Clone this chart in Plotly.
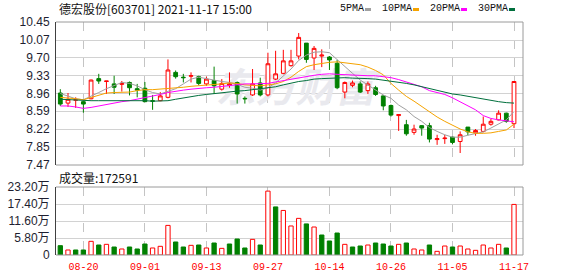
import plotly.graph_objects as go

# ---------------- data ----------------
dates = ["08-17", "08-18", "08-19", "08-20", "08-23", "08-24", "08-25", "08-26", "08-27", "08-30", "08-31",
         "09-01", "09-02", "09-03", "09-06", "09-07", "09-08", "09-09", "09-10", "09-13", "09-14", "09-15",
         "09-16", "09-17", "09-22", "09-23", "09-24", "09-27", "09-28", "09-29", "09-30",
         "10-08", "10-11", "10-12", "10-13", "10-14", "10-15", "10-18", "10-19", "10-20", "10-21", "10-22",
         "10-25", "10-26", "10-27", "10-28", "10-29",
         "11-01", "11-02", "11-03", "11-04", "11-05", "11-08", "11-09", "11-10", "11-11", "11-12", "11-15",
         "11-16", "11-17"]

opens = [8.97, 8.76, 8.82, 8.79, 8.85, 9.27, 9.21, 9.16, 9.15, 9.19, 9.06, 9.07, 8.81, 8.81, 8.88, 9.40,
         9.30, 9.32, 9.31, 9.16, 9.23, 9.05, 9.13, 9.19, 8.86, 8.93, 9.18, 8.93, 9.26, 9.38, 9.54, 9.74,
         10.01, 9.70, 9.74, 9.72, 9.59, 8.99, 9.13, 9.16, 9.02, 9.08, 8.91, 8.71, 8.50, 8.31, 8.15, 8.29,
         8.29, 8.00, 8.02, 8.05, 7.96, 8.26, 8.14, 8.17, 8.32, 8.41, 8.55, 8.33]
highs = [9.05, 8.97, 8.88, 8.80, 9.25, 9.37, 9.22, 9.33, 9.22, 9.21, 9.16, 9.20, 8.93, 8.99, 9.67, 9.44,
         9.37, 9.40, 9.33, 9.31, 9.52, 9.26, 9.40, 9.21, 8.90, 9.47, 9.29, 9.81, 9.85, 9.87, 9.87, 10.22,
         10.01, 9.95, 9.88, 9.74, 9.66, 9.21, 9.23, 9.21, 9.21, 9.12, 8.93, 8.73, 8.52, 8.41, 8.31, 8.30,
         8.35, 8.10, 8.10, 8.06, 8.17, 8.26, 8.22, 8.48, 8.43, 8.61, 8.56, 9.21]
lows = [8.70, 8.68, 8.66, 8.56, 8.84, 9.16, 8.95, 8.95, 9.00, 8.92, 8.88, 8.78, 8.62, 8.80, 8.86, 9.27,
        9.19, 9.19, 9.13, 9.12, 8.95, 9.02, 9.08, 8.75, 8.75, 8.91, 8.90, 8.90, 9.24, 9.36, 9.52, 9.67,
        9.60, 9.45, 9.51, 9.45, 9.05, 8.86, 9.09, 8.97, 8.95, 8.91, 8.61, 8.48, 8.18, 8.08, 8.10, 8.08,
        7.94, 7.89, 7.91, 7.90, 7.72, 8.09, 8.08, 8.15, 8.29, 8.40, 8.35, 8.24]
closes = [8.74, 8.84, 8.83, 8.74, 9.24, 9.22, 9.22, 9.09, 9.17, 9.08, 9.03, 8.79, 8.80, 8.91, 9.45, 9.31,
          9.29, 9.33, 9.17, 9.26, 9.12, 9.17, 9.16, 8.95, 8.85, 9.16, 8.93, 9.58, 9.37, 9.64, 9.64, 10.13,
          9.67, 9.90, 9.76, 9.66, 9.08, 9.19, 9.18, 8.99, 9.16, 8.94, 8.70, 8.51, 8.52, 8.12, 8.22, 8.24,
          8.01, 8.02, 8.03, 7.94, 8.10, 8.16, 8.19, 8.32, 8.38, 8.55, 8.38, 9.21]

# volume in 万 (10k)
volumes = [3.18, 1.71, 1.71, 1.71, 4.66, 3.41, 3.64, 2.73, 2.05, 2.73, 2.05, 3.75, 2.39, 2.96, 10.1, 4.44,
           2.73, 3.30, 3.41, 2.39, 4.09, 2.27, 3.75, 5.46, 2.39, 5.34, 3.41, 21.8, 16.4, 15.2, 9.9, 12.5,
           10.6, 9.55, 6.82, 4.78, 7.5, 3.64, 2.73, 3.07, 3.41, 4.09, 3.75, 3.07, 3.64, 4.09, 2.05, 1.71,
           3.41, 1.25, 3.07, 2.73, 3.07, 2.05, 1.59, 3.41, 2.39, 3.64, 2.39, 17.2591]

ma5 = [8.96, 8.91, 8.85, 8.83, 8.90, 8.98, 9.06, 9.13, 9.19, 9.17, 9.12, 9.04, 8.98, 8.95, 9.01, 9.06,
       9.16, 9.26, 9.30, 9.27, 9.23, 9.21, 9.19, 9.15, 9.09, 9.07, 9.03, 9.08, 9.18, 9.32, 9.47, 9.65,
       9.76, 9.82, 9.83, 9.81, 9.66, 9.52, 9.38, 9.24, 9.14, 9.04, 8.93, 8.86, 8.72, 8.62, 8.48, 8.38,
       8.25, 8.17, 8.10, 8.05, 8.05, 8.09, 8.12, 8.16, 8.24, 8.33, 8.41, 8.585]
ma10 = [8.88, 8.87, 8.85, 8.83, 8.88, 8.93, 8.97, 8.98, 8.98, 8.99, 9.02, 9.04, 9.04, 9.05, 9.06, 9.08,
        9.09, 9.11, 9.12, 9.14, 9.14, 9.16, 9.18, 9.17, 9.14, 9.13, 9.12, 9.14, 9.16, 9.21, 9.30, 9.42,
        9.52, 9.56, 9.59, 9.61, 9.62, 9.60, 9.59, 9.56, 9.51, 9.44, 9.35, 9.17, 9.03, 8.90, 8.80, 8.69,
        8.58, 8.47, 8.38, 8.30, 8.22, 8.16, 8.13, 8.13, 8.14, 8.17, 8.20, 8.32]
ma20 = [8.70, 8.70, 8.68, 8.65, 8.67, 8.70, 8.74, 8.77, 8.79, 8.81, 8.84, 8.87, 8.90, 8.94, 8.98, 9.01,
        9.03, 9.05, 9.07, 9.08, 9.09, 9.11, 9.13, 9.15, 9.16, 9.16, 9.16, 9.17, 9.20, 9.23, 9.26, 9.29,
        9.31, 9.34, 9.36, 9.37, 9.36, 9.35, 9.35, 9.34, 9.33, 9.33, 9.31, 9.29, 9.25, 9.20, 9.16, 9.10,
        9.02, 8.98, 8.94, 8.87, 8.79, 8.70, 8.62, 8.50, 8.44, 8.41, 8.39, 8.37]
ma30 = [8.84, 8.83, 8.82, 8.81, 8.81, 8.81, 8.81, 8.81, 8.81, 8.81, 8.82, 8.81, 8.80, 8.80, 8.81, 8.84,
        8.87, 8.90, 8.92, 8.94, 8.96, 8.98, 8.99, 9.01, 9.02, 9.04, 9.06, 9.08, 9.10, 9.14, 9.18, 9.21,
        9.23, 9.26, 9.27, 9.28, 9.29, 9.29, 9.28, 9.28, 9.27, 9.26, 9.24, 9.22, 9.20, 9.17, 9.14, 9.10,
        9.06, 9.02, 8.99, 8.95, 8.93, 8.90, 8.87, 8.84, 8.81, 8.79, 8.77, 8.76]

price_tick_labels = ["10.45", "10.07", "9.70", "9.33", "8.96", "8.59", "8.22", "7.85", "7.47"]
vol_tick_values = [0, 5.80, 11.60, 17.40, 23.20]
vol_tick_labels = ["0", "5.80万", "11.60万", "17.40万", "23.20万"]
x_tick_labels = ["08-20", "09-01", "09-13", "09-27", "10-14", "10-26", "11-05", "11-17"]

stock_title = "德宏股份[603701] 2021-11-17 15:00"
ma_names = ["5PMA", "10PMA", "20PMA", "30PMA"]

# ---------------- style ----------------
RED = "#ff0000"
GREEN = "#008000"
MA_COLORS = ["#a0a0a0", "#f5a300", "#ff00ff", "#006f3c"]
GRID = "#d2d2d2"
VGRID = "#c4c4c4"
BORDER = "#9a9a9a"
LABEL = "#1e1e30"

W, H = 578, 276
PL, PR, PT, PB = 56, 523, 22, 255
PRICE_BOTTOM = 165
VOL_TOP = 187


def px_x(px):
    return (px - PL) / (PR - PL)


def px_y(py):
    return (PB - py) / (PB - PT)


n = len(dates)
idx = list(range(n))
tick_idx = [dates.index(t) for t in x_tick_labels]
xr = [-0.56, 60.17]

price_dom = [px_y(PRICE_BOTTOM), 1.0]
vol_dom = [0.0, px_y(VOL_TOP)]

fig = go.Figure()

# watermark on base price subplot (drawn beneath candles)
fig.add_trace(go.Scatter(x=[30.6], y=[8.99], mode="text", text=["东方财富"],
                         textfont=dict(family="Noto Sans CJK SC", size=40, color="#e9e9ee",
                                       weight="bold", style="italic"),
                         xaxis="x", yaxis="y", hoverinfo="skip", showlegend=False))

fig.add_trace(go.Candlestick(
    x=idx, open=opens, high=highs, low=lows, close=closes,
    xaxis="x", yaxis="y3",
    increasing=dict(line=dict(color=RED, width=1), fillcolor="white"),
    decreasing=dict(line=dict(color=GREEN, width=1), fillcolor=GREEN),
    whiskerwidth=0, hoverinfo="skip", showlegend=False))

for vals, col in zip([ma5, ma10, ma20, ma30], MA_COLORS):
    fig.add_trace(go.Scatter(x=idx, y=vals, mode="lines", line=dict(color=col, width=1),
                             xaxis="x", yaxis="y3", hoverinfo="skip", showlegend=False))

up = [closes[0] >= opens[0]] + [closes[i] >= closes[i - 1] for i in range(1, n)]
fig.add_trace(go.Bar(
    x=idx, y=volumes, xaxis="x2", yaxis="y2", width=0.56,
    marker=dict(color=["white" if u else GREEN for u in up],
                line=dict(color=[RED if u else GREEN for u in up], width=1)),
    hoverinfo="skip", showlegend=False))

price_vals = [float(t) for t in price_tick_labels]
yfont = dict(family="Liberation Sans, Noto Sans CJK SC", size=12, color=LABEL)

fig.update_layout(
    width=W, height=H,
    margin=dict(l=PL, r=W - PR, t=PT, b=H - PB, autoexpand=False),
    paper_bgcolor="white", plot_bgcolor="white",
    showlegend=False, hovermode=False,
    xaxis=dict(domain=[0, 1], anchor="y", range=xr, tickvals=tick_idx, showticklabels=False,
               showgrid=True, gridcolor=VGRID, griddash="dash", gridwidth=1, zeroline=False,
               rangeslider=dict(visible=False), ticks="", fixedrange=True, automargin=False),
    xaxis2=dict(domain=[0, 1], anchor="y2", range=xr, tickvals=tick_idx, ticktext=x_tick_labels,
                tickfont=dict(family="Liberation Mono", size=10, color=RED),
                showgrid=True, gridcolor=VGRID, griddash="dash", gridwidth=1, zeroline=False,
                ticks="", ticklabelstandoff=4, fixedrange=True, automargin=False),
    yaxis=dict(domain=price_dom, anchor="x", range=[7.47, 10.45], tickvals=price_vals,
               ticktext=price_tick_labels, tickfont=yfont, showgrid=True, gridcolor=GRID,
               zeroline=False, showline=True, linecolor="#404040", linewidth=1, ticks="",
               ticklabelstandoff=3, fixedrange=True, automargin=False),
    yaxis3=dict(overlaying="y", anchor="x", range=[7.47, 10.45], visible=False, fixedrange=True),
    yaxis2=dict(domain=vol_dom, anchor="x2", range=[0, 23.2], tickvals=vol_tick_values,
                ticktext=vol_tick_labels, tickfont=yfont, showgrid=True, gridcolor=GRID,
                zeroline=False, showline=True, linecolor="#404040", linewidth=1, ticks="",
                ticklabelstandoff=3, fixedrange=True, automargin=False),
)

# panel borders (top, right, bottom)
shapes = []
for y0, y1 in [price_dom, vol_dom]:
    shapes.append(dict(type="line", xref="paper", yref="paper", x0=0, x1=1, y0=y1, y1=y1,
                       line=dict(color=BORDER, width=1)))
    shapes.append(dict(type="line", xref="paper", yref="paper", x0=1, x1=1, y0=y0, y1=y1,
                       line=dict(color=BORDER, width=1)))
    shapes.append(dict(type="line", xref="paper", yref="paper", x0=0, x1=1, y0=y0, y1=y0,
                       line=dict(color=BORDER, width=1)))

# legend swatches
annotations = []
lx = 338
for name, col in zip(ma_names, MA_COLORS):
    tw = len(name) * 6
    annotations.append(dict(xref="paper", yref="paper", x=px_x(lx), y=px_y(9), xanchor="left",
                            yanchor="middle", text=name, showarrow=False,
                            font=dict(family="Liberation Mono", size=10, color="#111111")))
    sx = lx + tw + 3
    shapes.append(dict(type="rect", xref="paper", yref="paper", x0=px_x(sx), x1=px_x(sx + 6),
                       y0=px_y(11), y1=px_y(8), fillcolor=col, line=dict(width=0)))
    lx = sx + 6 + 9

annotations.append(dict(xref="paper", yref="paper", x=px_x(57), y=px_y(8.5), xanchor="left",
                        yanchor="middle", text=stock_title, showarrow=False,
                        font=dict(family="Noto Sans CJK SC", size=12, color="#111111")))
annotations.append(dict(xref="paper", yref="paper", x=px_x(57), y=px_y(177), xanchor="left",
                        yanchor="middle", text="成交量:" + str(int(round(volumes[-1] * 10000))),
                        showarrow=False,
                        font=dict(family="Noto Sans CJK SC", size=12, color="#111111")))

fig.update_layout(shapes=shapes, annotations=annotations)

fig.write_html("out.html", config=dict(displayModeBar=False, staticPlot=True))
